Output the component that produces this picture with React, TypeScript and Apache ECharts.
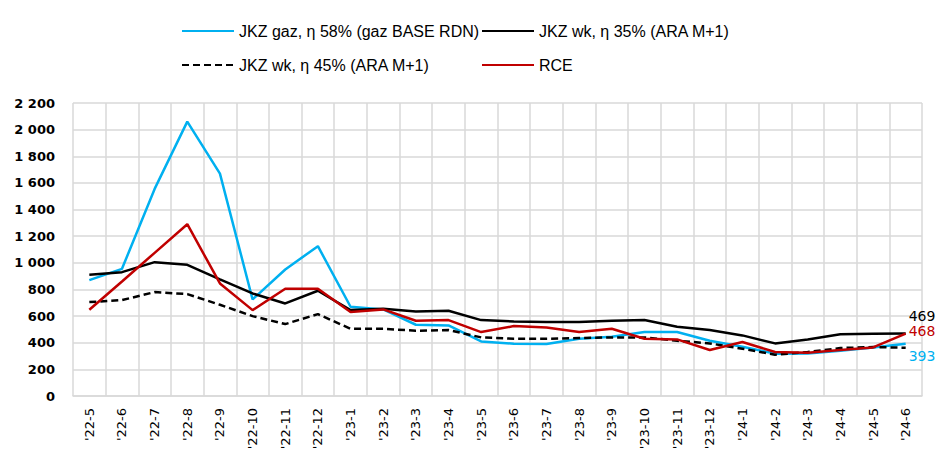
import React, { useEffect, useRef } from "react";
import * as echarts from "echarts";

const categories = [
  "'22-5", "'22-6", "'22-7", "'22-8", "'22-9", "'22-10", "'22-11", "'22-12",
  "'23-1", "'23-2", "'23-3", "'23-4", "'23-5", "'23-6", "'23-7", "'23-8", "'23-9", "'23-10", "'23-11", "'23-12",
  "'24-1", "'24-2", "'24-3", "'24-4", "'24-5", "'24-6",
];

const gazValues = [870, 955, 1555, 2060, 1670, 725, 950, 1125, 670, 650, 535, 530, 410, 393, 390, 430, 445, 480, 480, 415, 370, 318, 320, 340, 365, 393];
const wk35Values = [910, 930, 1005, 985, 875, 770, 695, 790, 645, 655, 635, 640, 570, 560, 555, 555, 565, 570, 520, 495, 455, 395, 425, 463, 468, 469];
const wk45Values = [705, 720, 780, 765, 685, 600, 540, 615, 505, 505, 490, 495, 440, 430, 430, 435, 440, 440, 415, 395, 355, 310, 330, 360, 368, 362];
const rceValues = [648, 860, 1075, 1290, 845, 645, 805, 805, 630, 650, 565, 570, 480, 525, 515, 480, 505, 430, 425, 345, 405, 330, 325, 345, 365, 468];

const seriesNames = [
  "JKZ gaz, η 58% (gaz BASE RDN)",
  "JKZ wk, η 35% (ARA M+1)",
  "JKZ wk, η 45% (ARA M+1)",
  "RCE",
];

const BLUE = "#00b0f0";
const BLACK = "#000000";
const RED = "#c00000";

const endLabel = (color: string, offsetY: number) => ({
  show: true,
  distance: 3,
  offset: [0, offsetY],
  color,
  fontFamily: "DejaVu Sans",
  fontSize: 14,
  lineHeight: 14,
  formatter: (p: any) => String(p.value),
});

export default function App() {
  const ref = useRef<HTMLDivElement>(null);
  useEffect(() => {
    if (!ref.current) return;
    const chart = echarts.init(ref.current, undefined, { renderer: "svg" });
    const legendFont = {
      fontFamily: "'Liberation Sans', Arial, sans-serif",
      fontSize: 16,
      color: "#000",
    };
    const legendBase = {
      itemWidth: 52,
      itemHeight: 14,
      itemGap: 0,
      padding: 0,
      textStyle: legendFont,
      itemStyle: { opacity: 0 },
    };
    chart.setOption({
      animation: false,
      backgroundColor: "#ffffff",
      legend: [
        { ...legendBase, data: [seriesNames[0]], left: 181, top: 23 },
        { ...legendBase, data: [seriesNames[1]], left: 481, top: 23 },
        { ...legendBase, data: [seriesNames[2]], left: 181, top: 57 },
        { ...legendBase, data: [seriesNames[3]], left: 481, top: 57 },
      ],
      grid: { left: 73, right: 23, top: 103, bottom: 75, containLabel: false },
      xAxis: {
        type: "category",
        data: categories,
        boundaryGap: true,
        axisLine: { show: true, lineStyle: { color: "#d9d9d9", width: 1.5 } },
        axisTick: { show: false },
        splitLine: { show: true, lineStyle: { color: "#d9d9d9", width: 1.5 } },
        axisLabel: {
          interval: 0,
          rotate: 90,
          margin: 12,
          color: "#000",
          fontFamily: "DejaVu Sans",
          fontSize: 13,
        },
      },
      yAxis: {
        type: "value",
        min: 0,
        max: 2200,
        interval: 200,
        axisLine: { show: false },
        axisTick: { show: false },
        splitLine: { show: true, lineStyle: { color: "#d9d9d9", width: 1.5 } },
        axisLabel: {
          margin: 18,
          color: "#000",
          fontFamily: "DejaVu Sans",
          fontWeight: "bold",
          fontSize: 13,
          formatter: (v: number) => String(v).replace(/\B(?=(\d{3})+(?!\d))/g, " "),
        },
      },
      series: [
        {
          name: seriesNames[0],
          type: "line",
          data: gazValues,
          symbol: "none",
          color: BLUE,
          lineStyle: { color: BLUE, width: 2.5 },
          endLabel: endLabel(BLUE, 12),
        },
        {
          name: seriesNames[1],
          type: "line",
          data: wk35Values,
          symbol: "none",
          color: BLACK,
          lineStyle: { color: BLACK, width: 2.5 },
          endLabel: endLabel(BLACK, -18),
        },
        {
          name: seriesNames[2],
          type: "line",
          data: wk45Values,
          symbol: "none",
          color: BLACK,
          lineStyle: { color: BLACK, width: 2.5, type: [7, 4] },
        },
        {
          name: seriesNames[3],
          type: "line",
          data: rceValues,
          symbol: "none",
          color: RED,
          lineStyle: { color: RED, width: 2.5 },
          endLabel: endLabel(RED, -3),
        },
      ],
    });
    return () => chart.dispose();
  }, []);
  return <div ref={ref} style={{ width: 945, height: 471, position: "absolute", left: 0, top: 0 }} />;
}
